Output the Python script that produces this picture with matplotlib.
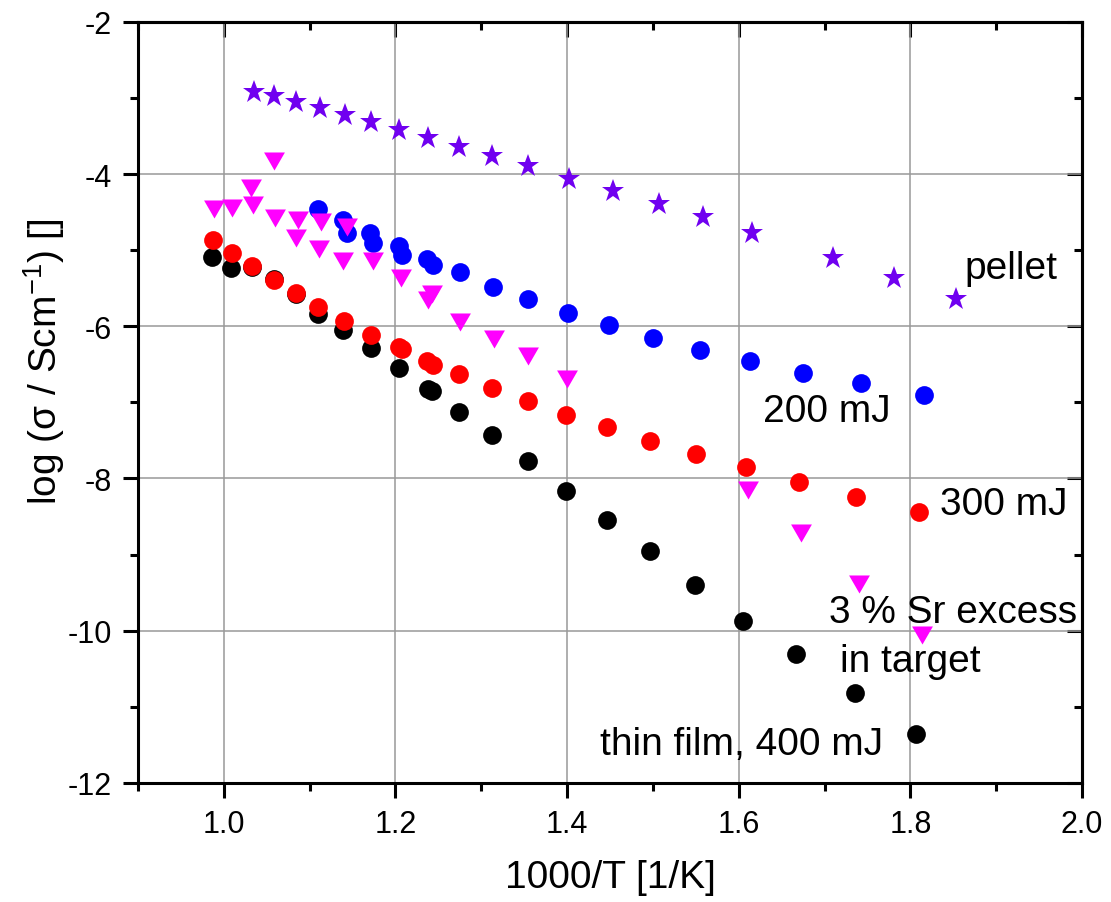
import numpy as np
import matplotlib
matplotlib.use('Agg')
import matplotlib.pyplot as plt
from matplotlib.ticker import MultipleLocator

plt.rcParams['font.family'] = ['Liberation Sans', 'DejaVu Sans']
plt.rcParams['mathtext.fontset'] = 'custom'
plt.rcParams['mathtext.rm'] = 'Liberation Sans'
plt.rcParams['mathtext.default'] = 'regular'

# pellet (stars)
pellet_x = [1.035, 1.058, 1.084, 1.112, 1.141, 1.171, 1.204, 1.238, 1.274, 1.313,
            1.355, 1.402, 1.453, 1.507, 1.558, 1.616, 1.710, 1.781, 1.853]
pellet_y = [-2.92, -2.97, -3.06, -3.13, -3.22, -3.32, -3.42, -3.53, -3.64, -3.77,
            -3.90, -4.07, -4.22, -4.40, -4.57, -4.77, -5.11, -5.37, -5.64]

# 200 mJ (blue)
mj200_x = [1.110, 1.139, 1.143, 1.170, 1.174, 1.204, 1.208, 1.237, 1.244, 1.275,
           1.314, 1.354, 1.401, 1.449, 1.500, 1.555, 1.613, 1.675, 1.743, 1.816]
mj200_y = [-4.46, -4.61, -4.77, -4.77, -4.90, -4.94, -5.06, -5.12, -5.20, -5.29,
           -5.48, -5.64, -5.82, -5.99, -6.15, -6.31, -6.46, -6.61, -6.75, -6.90]

# 300 mJ (red)
mj300_x = [0.987, 1.009, 1.033, 1.058, 1.084, 1.110, 1.140, 1.171, 1.204, 1.208,
           1.237, 1.244, 1.274, 1.313, 1.354, 1.399, 1.446, 1.497, 1.550, 1.608,
           1.670, 1.737, 1.810]
mj300_y = [-4.87, -5.04, -5.21, -5.39, -5.56, -5.75, -5.93, -6.12, -6.27, -6.30,
           -6.46, -6.51, -6.63, -6.81, -6.98, -7.16, -7.33, -7.51, -7.68, -7.85,
           -8.05, -8.24, -8.44]

# thin film, 400 mJ (black)
mj400_x = [0.986, 1.008, 1.033, 1.058, 1.084, 1.110, 1.139, 1.171, 1.204, 1.238,
           1.243, 1.274, 1.313, 1.354, 1.399, 1.446, 1.497, 1.549, 1.605, 1.667,
           1.735, 1.807]
mj400_y = [-5.09, -5.23, -5.22, -5.38, -5.57, -5.84, -6.05, -6.28, -6.55, -6.83,
           -6.85, -7.12, -7.43, -7.77, -8.16, -8.54, -8.95, -9.40, -9.87, -10.31,
           -10.82, -11.36]

# 3 % Sr excess in target (magenta triangles)
sr_x = [0.988, 1.010, 1.032, 1.034, 1.058, 1.060, 1.086, 1.084, 1.113, 1.111,
        1.143, 1.139, 1.174, 1.206, 1.243, 1.238, 1.275, 1.315, 1.355, 1.400,
        1.611, 1.673, 1.740, 1.814]
sr_y = [-4.46, -4.45, -4.19, -4.41, -3.83, -4.58, -4.61, -4.84, -4.63, -4.99,
        -4.69, -5.14, -5.14, -5.37, -5.58, -5.66, -5.95, -6.17, -6.39, -6.69,
        -8.15, -8.72, -9.39, -10.06]

# equilateral down triangle, like Origin's
tri = [(-1, 0.866), (1, 0.866), (0, -0.866), (-1, 0.866)]

fig = plt.figure(figsize=(11.11, 9.03), dpi=100)
ax = fig.add_axes([0.1242, 0.1318, 0.8497, 0.8430])

ms = 13.5
ax.plot(mj400_x, mj400_y, 'o', color='black', ms=ms, mew=0, zorder=3)
ax.plot(mj300_x, mj300_y, 'o', color='#ff0000', ms=ms, mew=0, zorder=3)
ax.plot(mj200_x, mj200_y, 'o', color='#0000ff', ms=ms, mew=0, zorder=3)
ax.plot(sr_x, sr_y, ls='none', marker=tri, color='#ff00ff', ms=15, mew=0, zorder=4)
ax.plot(pellet_x, pellet_y, '*', color='#7000f0', ms=17, mew=0, zorder=4)

fs_ann = 28
ax.text(1.863, -5.36, 'pellet', fontsize=fs_ann, ha='left', va='baseline')
ax.text(1.628, -7.24, '200 mJ', fontsize=fs_ann, ha='left', va='baseline')
ax.text(1.835, -8.47, '300 mJ', fontsize=fs_ann, ha='left', va='baseline')
ax.text(1.705, -9.89, '3 % Sr excess', fontsize=fs_ann, ha='left', va='baseline')
ax.text(1.718, -10.53, 'in target', fontsize=fs_ann, ha='left', va='baseline')
ax.text(1.438, -11.62, 'thin film, 400 mJ', fontsize=fs_ann, ha='left', va='baseline')

ax.set_xlim(0.9, 2.0)
ax.set_ylim(-12, -2)
ax.xaxis.set_minor_locator(MultipleLocator(0.1))
ax.yaxis.set_minor_locator(MultipleLocator(1))
ax.set_xticks([1.0, 1.2, 1.4, 1.6, 1.8, 2.0])
ax.set_xticklabels(['1.0', '1.2', '1.4', '1.6', '1.8', '2.0'])
ax.set_yticks([-12, -10, -8, -6, -4, -2])
ax.set_yticklabels(['-12', '-10', '-8', '-6', '-4', '-2'])

ax.grid(True, which='major', color='#999999', linewidth=1.1)
ax.set_axisbelow(True)

for s in ax.spines.values():
    s.set_linewidth(2.2)

ax.tick_params(which='both', direction='out', width=2.2, labelsize=22, pad=8,
               top=False, right=False)
ax.tick_params(which='major', length=11)
ax.tick_params(which='minor', length=5.5)

# inward ticks on top and right like the original
axt = ax.secondary_xaxis('top')
axt.xaxis.set_major_locator(MultipleLocator(0.2))
axt.xaxis.set_minor_locator(MultipleLocator(0.1))
axt.tick_params(which='both', direction='in', width=2.2, labeltop=False)
axt.tick_params(which='major', length=10.5)
axt.tick_params(which='minor', length=5.5)
axt.spines['top'].set_linewidth(2.2)
axr = ax.secondary_yaxis('right')
axr.yaxis.set_major_locator(MultipleLocator(2))
axr.yaxis.set_minor_locator(MultipleLocator(1))
axr.tick_params(which='both', direction='in', width=2.2, labelright=False)
axr.tick_params(which='major', length=10.5)
axr.tick_params(which='minor', length=5.5)
axr.spines['right'].set_linewidth(2.2)

ax.set_xlabel('1000/T [1/K]', fontsize=28, labelpad=14)
fig.text(0.040, 0.60, 'log (σ / Scm$^{-1}$) []', fontsize=28, rotation=90,
         ha='center', va='center')

fig.savefig('out.png', dpi=100)
